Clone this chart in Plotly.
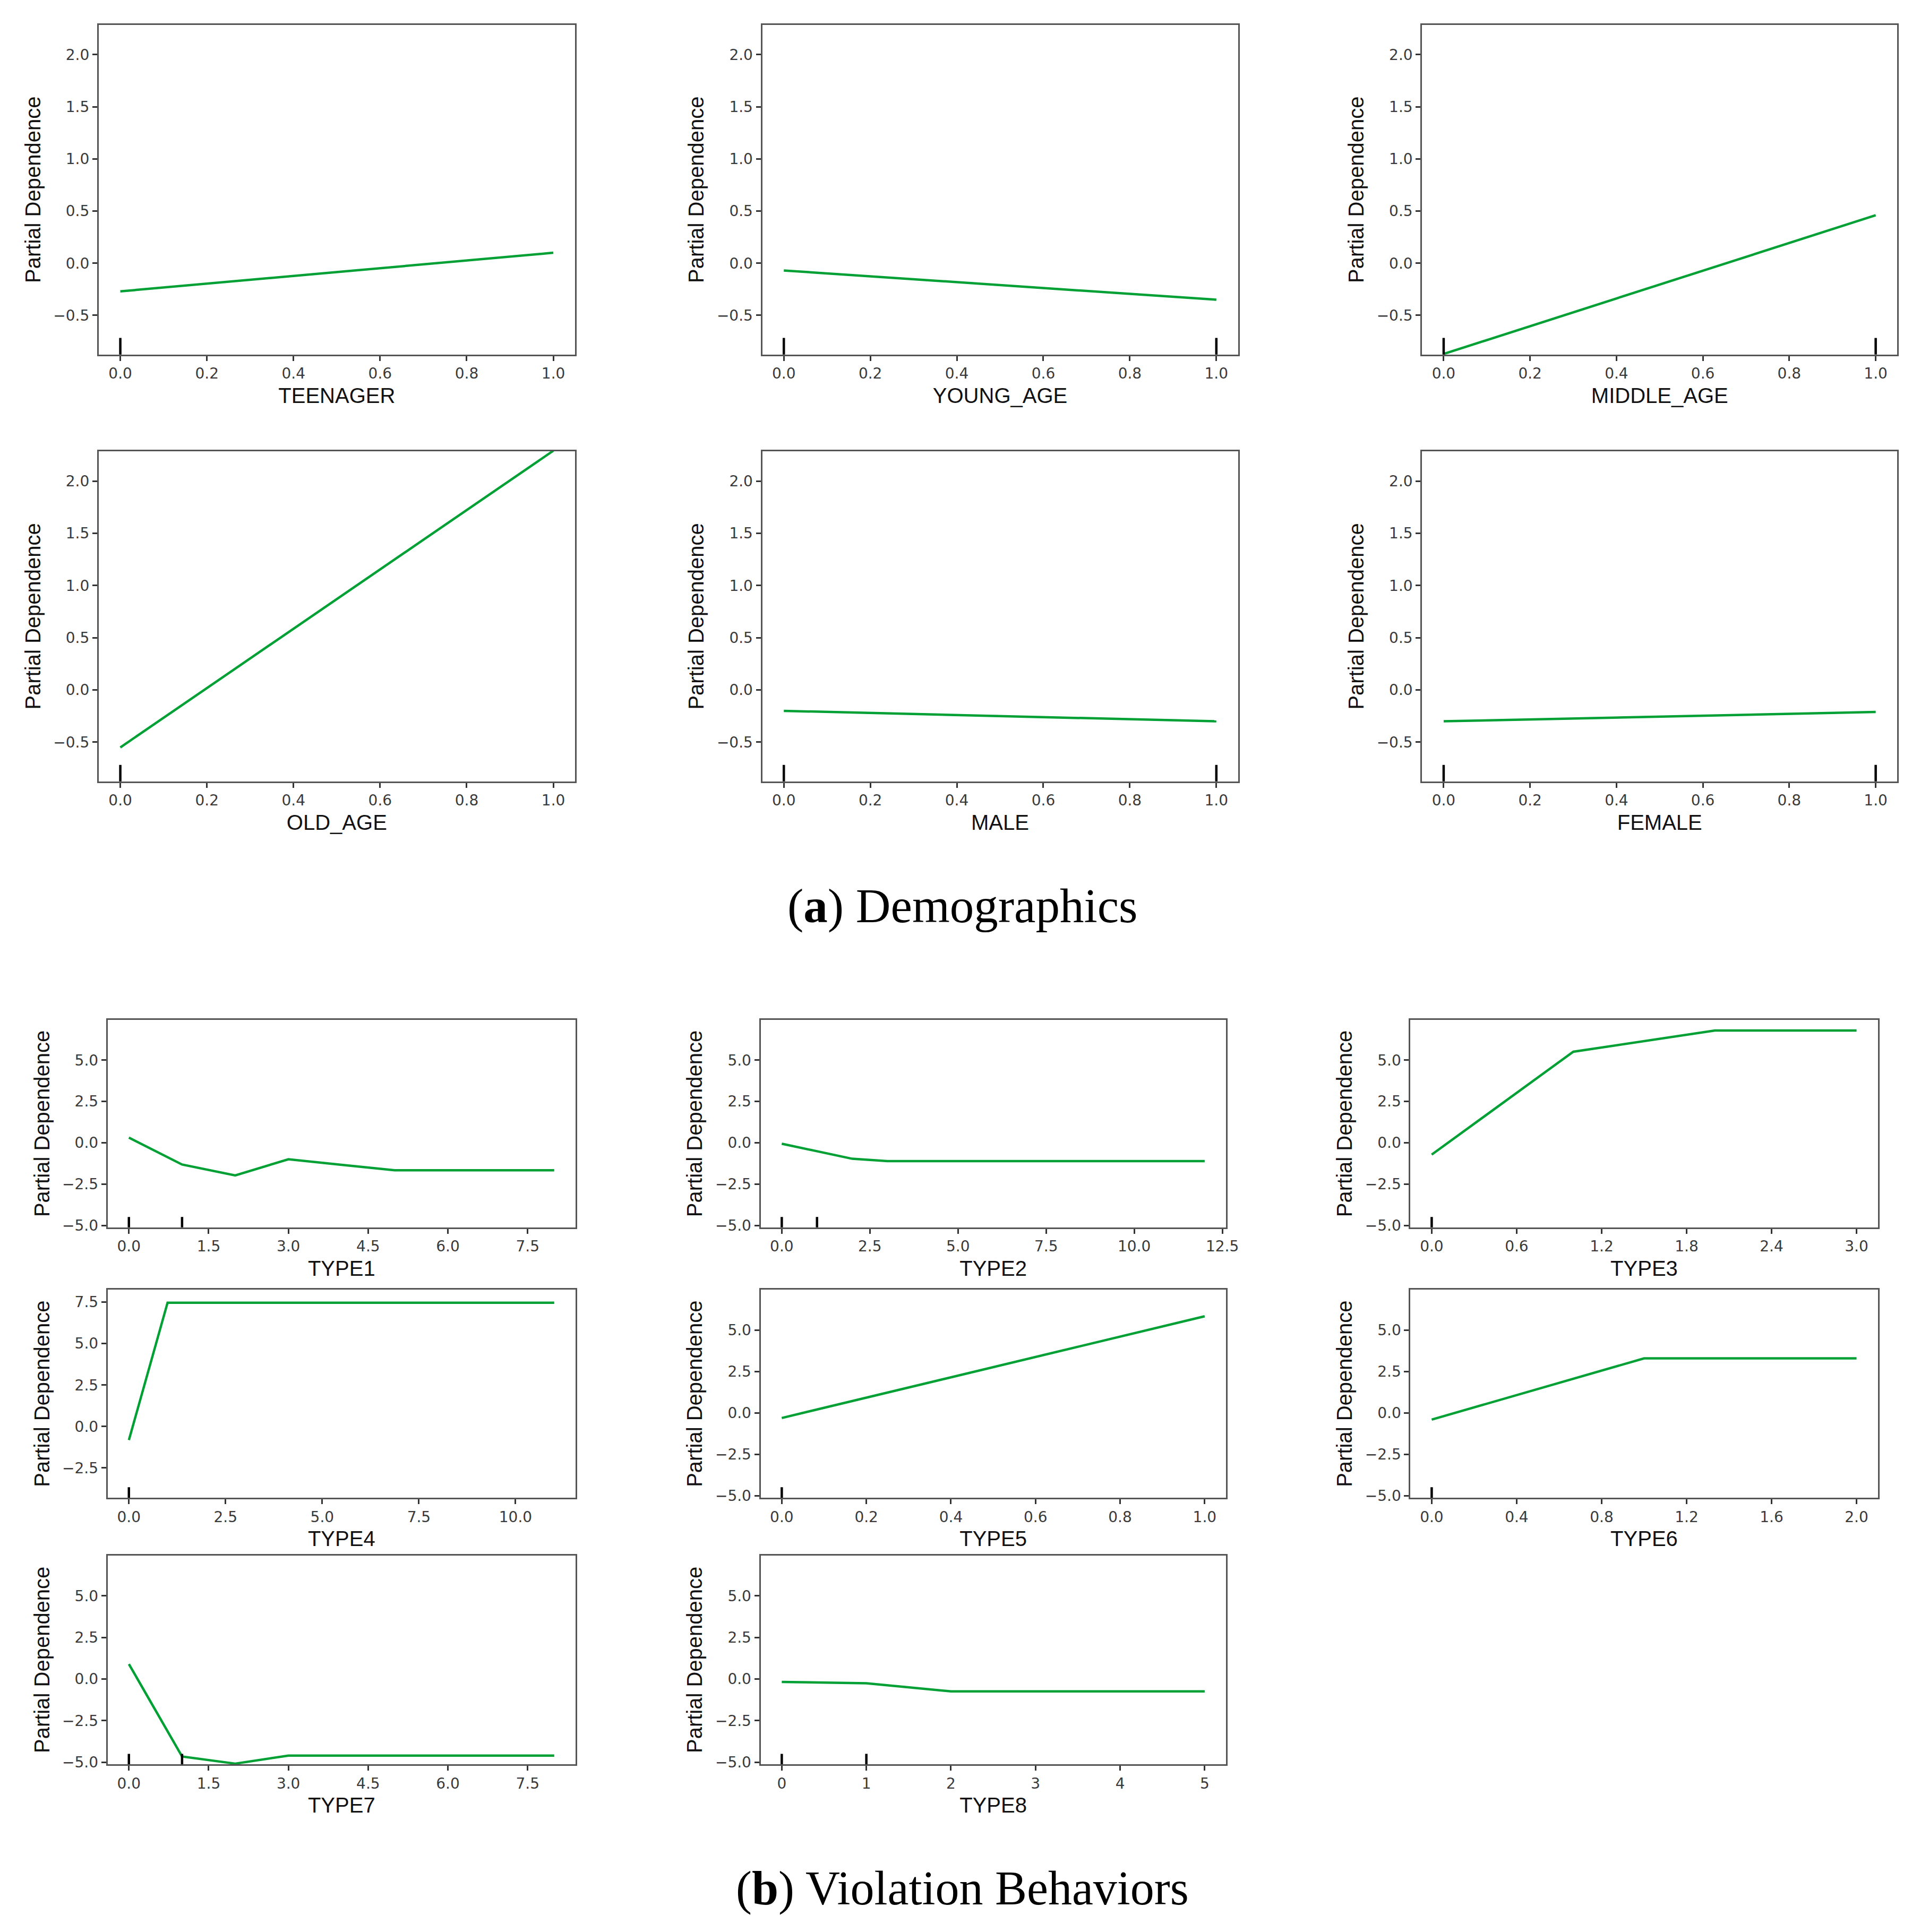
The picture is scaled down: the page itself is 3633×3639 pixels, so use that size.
import plotly.graph_objects as go

W, H = 3633, 3639

# ---------------- data ----------------
# (a) Demographics
teenager_x = [0, 1]
teenager_y = [-0.27, 0.10]
teenager_deciles = [0]

young_age_x = [0, 1]
young_age_y = [-0.07, -0.35]
young_age_deciles = [0, 1]

middle_age_x = [0, 1]
middle_age_y = [-0.87, 0.46]
middle_age_deciles = [0, 1]

old_age_x = [0, 1]
old_age_y = [-0.55, 2.29]
old_age_deciles = [0]

male_x = [0, 1]
male_y = [-0.20, -0.30]
male_deciles = [0, 1]

female_x = [0, 1]
female_y = [-0.30, -0.21]
female_deciles = [0, 1]

# (b) Violation Behaviors
type1_x = [0, 1, 2, 3, 4, 5, 6, 7, 8]
type1_y = [0.31, -1.32, -1.98, -1.00, -1.34, -1.67, -1.67, -1.67, -1.67]
type1_deciles = [0, 1]

type2_x = [0, 1, 2, 3, 4, 5, 6, 7, 8, 9, 10, 11, 12]
type2_y = [-0.06, -0.50, -0.97, -1.11, -1.11, -1.11, -1.11, -1.11, -1.11, -1.11, -1.11, -1.11, -1.11]
type2_deciles = [0, 1]

type3_x = [0, 1, 2, 3]
type3_y = [-0.72, 5.51, 6.79, 6.79]
type3_deciles = [0]

type4_x = [0, 1, 2, 3, 4, 5, 6, 7, 8, 9, 10, 11]
type4_y = [-0.82, 7.46, 7.46, 7.46, 7.46, 7.46, 7.46, 7.46, 7.46, 7.46, 7.46, 7.46]
type4_deciles = [0]

type5_x = [0, 1]
type5_y = [-0.31, 5.83]
type5_deciles = [0]

type6_x = [0, 1, 2]
type6_y = [-0.41, 3.29, 3.29]
type6_deciles = [0]

type7_x = [0, 1, 2, 3, 4, 5, 6, 7, 8]
type7_y = [0.90, -4.65, -5.08, -4.60, -4.60, -4.60, -4.60, -4.60, -4.60]
type7_deciles = [0, 1]

type8_x = [0, 1, 2, 3, 4, 5]
type8_y = [-0.17, -0.25, -0.74, -0.74, -0.74, -0.74]
type8_deciles = [0, 1]

# tick values / labels
demo_yticks = [-0.5, 0.0, 0.5, 1.0, 1.5, 2.0]
unit_xticks = [0.0, 0.2, 0.4, 0.6, 0.8, 1.0]
viol_yticks = [-5.0, -2.5, 0.0, 2.5, 5.0]
type4_yticks = [-2.5, 0.0, 2.5, 5.0, 7.5]
type1_xticks = [0.0, 1.5, 3.0, 4.5, 6.0, 7.5]
type2_xticks = [0.0, 2.5, 5.0, 7.5, 10.0, 12.5]
type3_xticks = [0.0, 0.6, 1.2, 1.8, 2.4, 3.0]
type4_xticks = [0.0, 2.5, 5.0, 7.5, 10.0]
type6_xticks = [0.0, 0.4, 0.8, 1.2, 1.6, 2.0]
type8_xticks = [0, 1, 2, 3, 4, 5]

caption_a = "(<b>a</b>) Demographics"
caption_b = "(<b>b</b>) Violation Behaviors"

# ---------------- layout geometry (pixels) ----------------
demo_yrange = [-0.875, 2.285]
viol_yrange = [-5.12, 7.43]
type4_yrange = [-4.29, 8.24]

colA = [(179, 1082), (1437, 2339), (2688, 3589)]
rowA = [(39, 662), (845, 1469)]
colB = [(196, 1083), (1434, 2316), (2666, 3552)]
rowB = [(1920, 2312), (2430, 2823), (2932, 3327)]

panels = [
    ("TEENAGER", teenager_x, teenager_y, teenager_deciles, unit_xticks, ".1f", demo_yticks, demo_yrange, colA[0], rowA[0]),
    ("YOUNG_AGE", young_age_x, young_age_y, young_age_deciles, unit_xticks, ".1f", demo_yticks, demo_yrange, colA[1], rowA[0]),
    ("MIDDLE_AGE", middle_age_x, middle_age_y, middle_age_deciles, unit_xticks, ".1f", demo_yticks, demo_yrange, colA[2], rowA[0]),
    ("OLD_AGE", old_age_x, old_age_y, old_age_deciles, unit_xticks, ".1f", demo_yticks, demo_yrange, colA[0], rowA[1]),
    ("MALE", male_x, male_y, male_deciles, unit_xticks, ".1f", demo_yticks, demo_yrange, colA[1], rowA[1]),
    ("FEMALE", female_x, female_y, female_deciles, unit_xticks, ".1f", demo_yticks, demo_yrange, colA[2], rowA[1]),
    ("TYPE1", type1_x, type1_y, type1_deciles, type1_xticks, ".1f", viol_yticks, viol_yrange, colB[0], rowB[0]),
    ("TYPE2", type2_x, type2_y, type2_deciles, type2_xticks, ".1f", viol_yticks, viol_yrange, colB[1], rowB[0]),
    ("TYPE3", type3_x, type3_y, type3_deciles, type3_xticks, ".1f", viol_yticks, viol_yrange, colB[2], rowB[0]),
    ("TYPE4", type4_x, type4_y, type4_deciles, type4_xticks, ".1f", type4_yticks, type4_yrange, colB[0], rowB[1]),
    ("TYPE5", type5_x, type5_y, type5_deciles, unit_xticks, ".1f", viol_yticks, viol_yrange, colB[1], rowB[1]),
    ("TYPE6", type6_x, type6_y, type6_deciles, type6_xticks, ".1f", viol_yticks, viol_yrange, colB[2], rowB[1]),
    ("TYPE7", type7_x, type7_y, type7_deciles, type1_xticks, ".1f", viol_yticks, viol_yrange, colB[0], rowB[2]),
    ("TYPE8", type8_x, type8_y, type8_deciles, type8_xticks, "d", viol_yticks, viol_yrange, colB[1], rowB[2]),
]

LINE_GREEN = "#00a035"
FRAME = "#555555"
TICK_FONT = dict(family="DejaVu Sans", size=28, color="#3a3a3a")
XTITLE_FONT = dict(family="Liberation Sans", size=40, color="#111111")
YTITLE_FONT = dict(family="Liberation Sans", size=40, color="#111111")

fig = go.Figure()
layout = dict(
    width=W, height=H,
    margin=dict(l=0, r=0, t=0, b=0),
    paper_bgcolor="white", plot_bgcolor="white",
    showlegend=False,
)
shapes = []

for i, (name, xs, ys, dec, xt, xfmt, yt, yr, (xl, xr), (yt_px, yb_px)) in enumerate(panels):
    n = i + 1
    xa = "xaxis" if n == 1 else f"xaxis{n}"
    ya = "yaxis" if n == 1 else f"yaxis{n}"
    xref = "x" if n == 1 else f"x{n}"
    yref = "y" if n == 1 else f"y{n}"
    span = max(xs) - min(xs)
    xrange = [min(xs) - 0.05 * span, max(xs) + 0.05 * span]

    fig.add_trace(go.Scatter(
        x=xs, y=ys, mode="lines", xaxis=xref, yaxis=yref,
        line=dict(color=LINE_GREEN, width=4.5), hoverinfo="skip",
    ))

    layout[xa] = dict(
        domain=[xl / W, xr / W], anchor=yref, range=xrange,
        tickvals=xt, tickformat=xfmt, ticks="outside", ticklen=9, tickwidth=2.5,
        tickcolor="#333333", tickfont=TICK_FONT,
        showline=True, mirror=True, linecolor=FRAME, linewidth=3,
        showgrid=False, zeroline=False,
        title=dict(text=name, font=XTITLE_FONT, standoff=12),
    )
    layout[ya] = dict(
        domain=[1 - yb_px / H, 1 - yt_px / H], anchor=xref, range=yr,
        tickvals=yt, tickformat=".1f", ticks="outside", ticklen=9, tickwidth=2.5,
        tickcolor="#333333", tickfont=TICK_FONT,
        showline=True, mirror=True, linecolor=FRAME, linewidth=3,
        showgrid=False, zeroline=False,
        title=dict(text="Partial Dependence", font=YTITLE_FONT, standoff=12),
    )
    for d in dec:
        shapes.append(dict(
            type="line", xref=xref, yref=f"{yref} domain",
            x0=d, x1=d, y0=0, y1=0.05,
            line=dict(color="black", width=4.5),
        ))

layout["shapes"] = shapes
layout["annotations"] = [
    dict(text=caption_a, x=1817 / W, y=1 - 1705 / H, xref="paper", yref="paper",
         xanchor="center", yanchor="middle", showarrow=False,
         font=dict(family="Liberation Serif", size=91, color="black")),
    dict(text=caption_b, x=1817 / W, y=1 - 3562 / H, xref="paper", yref="paper",
         xanchor="center", yanchor="middle", showarrow=False,
         font=dict(family="Liberation Serif", size=90, color="black")),
]

fig.update_layout(**layout)
fig.write_html("out.html")
